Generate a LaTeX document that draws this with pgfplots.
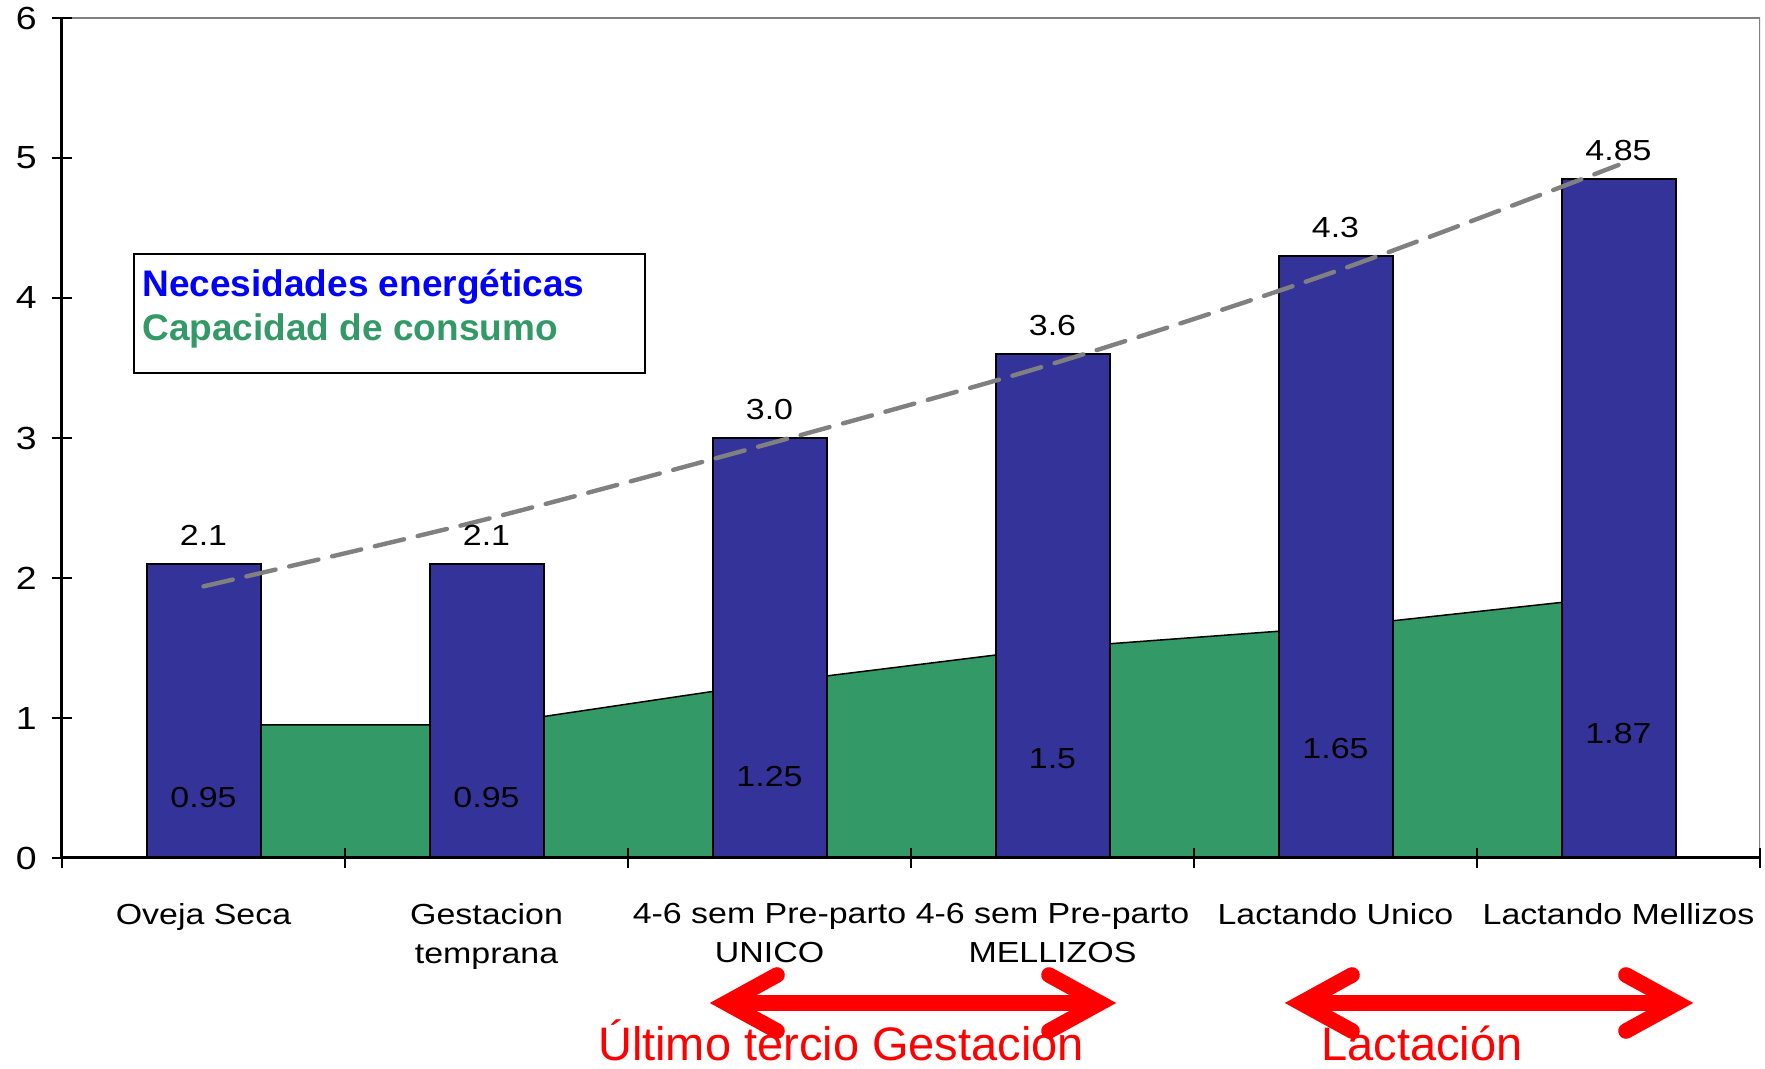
\documentclass[border=0pt]{standalone}
\usepackage{pgfplots}
\pgfplotsset{compat=1.18}
\usepackage{pgfplotstable}
\usepackage{fontspec}
\setmainfont{Liberation Sans}[FakeStretch=1.17]
\newfontfamily\plainsans{Liberation Sans}
\definecolor{barblue}{RGB}{51,51,153}
\definecolor{areagreen}{RGB}{51,153,102}
\definecolor{trendgray}{RGB}{128,128,128}

\pgfplotstableread{
x y label
0 2.1 2.1
1 2.1 2.1
2 3.0 3.0
3 3.6 3.6
4 4.3 4.3
5 4.85 4.85
}\needs
\pgfplotstableread{
x y label
0 0.95 0.95
1 0.95 0.95
2 1.25 1.25
3 1.5 1.5
4 1.65 1.65
5 1.87 1.87
}\consumo
\pgfplotstableread{
x y
0 1.94
1 2.42
2 2.96
3 3.53
4 4.19
5 4.95
}\trend

\begin{document}
\begin{tikzpicture}
\begin{axis}[
  scale only axis, width=849pt, height=420pt,
  xmin=-0.5, xmax=5.5, ymin=0, ymax=6,
  axis x line*=bottom, axis y line*=left,
  axis line style={-, line width=1.5pt, black},
  axis on top,
  xtick={-0.5,0.5,1.5,2.5,3.5,4.5,5.5},
  x tick label as interval,
  xticklabels={Oveja Seca, {Gestacion\\temprana}, {4-6 sem Pre-parto\\UNICO}, {4-6 sem Pre-parto\\MELLIZOS}, Lactando Unico, Lactando Mellizos},
  ytick={0,1,2,3,4,5,6},
  tick align=center,
  major tick length=10pt,
  tick style={line width=1pt, black},
  /pgf/number format/assume math mode=true,
  xticklabel style={font=\fontsize{14.5}{19.5}\selectfont, align=center, anchor=north, inner sep=0pt, yshift=-17.3pt},
  yticklabel style={font=\fontsize{16}{19}\selectfont, anchor=east, inner sep=0pt, xshift=-7.5pt},
]
\addplot[fill=areagreen, draw=black, line width=0.75pt] table {\consumo} \closedcycle;
\addplot[ybar, bar width=57pt, fill=barblue, draw=black, line width=1pt,
  nodes near coords, point meta=explicit symbolic,
  nodes near coords style={anchor=base, inner sep=0pt, yshift=9pt, text=black, font=\fontsize{14.5}{17}\selectfont}]
  table[meta=label] {\needs};
\addplot[draw=none, nodes near coords, point meta=explicit symbolic,
  visualization depends on={\thisrow{y} \as \yv},
  nodes near coords style={anchor=center, inner sep=0pt, yshift={-35pt*\yv-3pt}, text=black, font=\fontsize{14.5}{17}\selectfont}]
  table[meta=label] {\consumo};
\addplot[trendgray, line width=2.2pt, dash pattern=on 15pt off 7pt, line cap=round, smooth] table {\trend};
\draw[trendgray, line width=0.6pt] (rel axis cs:0,1) -- (rel axis cs:1,1) -- (rel axis cs:1,0);
\end{axis}
\pgfresetboundingbox
\path[use as bounding box] (-31pt,-105.5pt) rectangle (851.5pt,429pt);
% legend box
\draw[line width=1pt, fill=white] (36pt,242.5pt) rectangle (291.5pt,302pt);
\node[anchor=base west, inner sep=0pt, text=blue, font=\plainsans\bfseries\fontsize{18.5}{22}\selectfont] at (40pt,280.5pt) {Necesidades\ energéticas};
\node[anchor=base west, inner sep=0pt, text=areagreen, font=\plainsans\bfseries\fontsize{18.5}{22}\selectfont] at (40pt,258.5pt) {Capacidad de consumo};
% red annotations
\node[anchor=base, inner sep=0pt, text=red, font=\plainsans\fontsize{23.5}{28}\selectfont] at (389.5pt,-101.5pt) {Último tercio Gestacion};
\node[anchor=base, inner sep=0pt, text=red, font=\plainsans\fontsize{23.5}{28}\selectfont] at (680pt,-101.5pt) {Lactación};
\begin{scope}[red, line width=7.8pt]
\draw (332pt,-72.5pt) -- (519pt,-72.5pt);
\draw[line cap=round, line join=miter] (357.5pt,-58.5pt) -- (332pt,-72.5pt) -- (357.5pt,-86.5pt);
\draw[line cap=round, line join=miter] (493.5pt,-58.5pt) -- (519pt,-72.5pt) -- (493.5pt,-86.5pt);
\draw (619.5pt,-72.5pt) -- (807.5pt,-72.5pt);
\draw[line cap=round, line join=miter] (645pt,-58.5pt) -- (619.5pt,-72.5pt) -- (645pt,-86.5pt);
\draw[line cap=round, line join=miter] (782pt,-58.5pt) -- (807.5pt,-72.5pt) -- (782pt,-86.5pt);
\end{scope}
\end{tikzpicture}
\end{document}
